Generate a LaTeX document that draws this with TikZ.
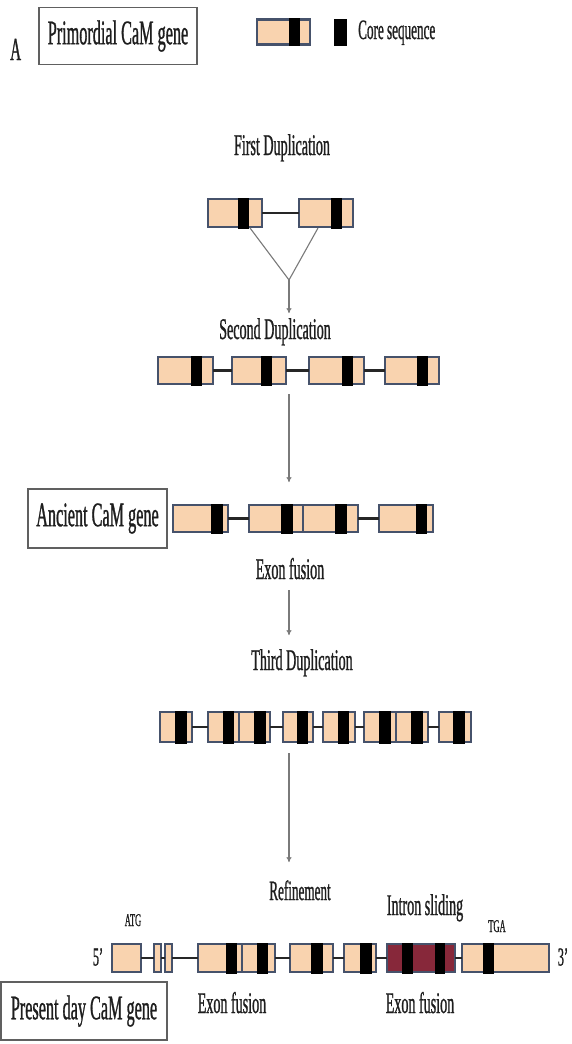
\documentclass[tikz,border=0pt]{standalone}
\usepackage{fontspec}
\setmainfont{Liberation Serif}[FakeStretch=0.47,FakeBold=0.8]
\usetikzlibrary{arrows.meta}
\definecolor{peach}{HTML}{F9D3AF}
\definecolor{exline}{HTML}{46526B}
\definecolor{redex}{HTML}{87283A}
\definecolor{arrowgray}{HTML}{7A7A7A}
\definecolor{txt}{HTML}{1E1E1E}
\tikzset{
  exonbox/.style={rectangle, draw=exline, fill=peach, line width=2.1pt, inner sep=0pt, outer sep=0pt},
  corebox/.style={rectangle, fill=black, draw=none, inner sep=0pt, outer sep=0pt},
  link/.style={line width=2.2pt, black!85},
  vline/.style={draw=arrowgray, line width=1.1pt},
  flow/.style={draw=arrowgray, line width=1.1pt, -{To[length=5pt,width=5pt]}},
  lbl/.style={text=txt, font=\fontsize{30}{32}\selectfont, inner sep=0pt},
  small/.style={text=txt, font=\fontsize{18}{20}\selectfont, inner sep=0pt},
  genebox/.style={draw=gray!75!black, line width=1.3pt, text=txt, font=\fontsize{34.5}{36}\selectfont, inner sep=0pt}
}
% name, x1, x2, yc, h
\newcommand{\exon}[6][]{\node[exonbox,#1, minimum width={(#4-#3)*1pt}, minimum height={#6*1pt}] (#2) at ({(#3+#4)/2},#5) {};}
\newcommand{\core}[5]{\node[corebox, minimum width={(#3-#2)*1pt}, minimum height={(#5+3)*1pt}] (#1) at ({(#2+#3)/2},#4) {};}
\begin{document}
\begin{tikzpicture}[x=1pt,y=-1pt]
\useasboundingbox[fill=white] (0,0) rectangle (571,1044);

% ---- header ----
\node[text=txt, font=\fontsize{32}{34}\selectfont, inner sep=0pt, anchor=base west] (lA) at (10,60) {A};
\node[genebox, minimum width=158pt, minimum height=57pt] (prim) at (118,36) {Primordial CaM gene};
\exon{leg}{257}{310}{32}{25}
\core{legc}{289}{300}{32}{25}
\node[corebox, minimum width=13pt, minimum height=27pt] (legsq) at (340.5,32) {};
\node[text=txt, font=\fontsize{28}{30}\selectfont, inner sep=0pt, anchor=base west] (legt) at (358,39) {Core sequence};

% ---- first duplication ----
\node[lbl, anchor=base] (t1) at (282,155) {First Duplication};
\exon{d1a}{208}{262}{213}{28}
\exon{d1b}{299}{353}{213}{28}
\draw[link] (d1a.east) -- (d1b.west);
\core{d1ac}{238}{249}{213}{28}
\core{d1bc}{331}{342}{213}{28}
\coordinate (v1) at (250,228);
\coordinate (v2) at (318,228);
\coordinate (vj) at (289,280);
\coordinate (a1) at (289,313);
\draw[vline] (v1) -- (vj);
\draw[vline] (v2) -- (vj);
\draw[flow] (vj) -- (a1);

% ---- second duplication ----
\node[lbl, anchor=base] (t2) at (275,339) {Second Duplication};
\exon{d2a}{158}{213}{370.5}{27}
\exon{d2b}{232}{286}{370.5}{27}
\exon{d2c}{309}{364}{370.5}{27}
\exon{d2d}{385}{439}{370.5}{27}
\draw[link] (d2a.east) -- (d2b.west);
\draw[link] (d2b.east) -- (d2c.west);
\draw[link] (d2c.east) -- (d2d.west);
\core{d2ac}{191}{202}{370.5}{27}
\core{d2bc}{261}{272}{370.5}{27}
\core{d2cc}{342}{353}{370.5}{27}
\core{d2dc}{417}{428}{370.5}{27}
\coordinate (a2s) at (289,394);
\coordinate (a2e) at (289,482);
\draw[flow] (a2s) -- (a2e);

% ---- ancient gene ----
\node[genebox, minimum width=139pt, minimum height=59pt] (anc) at (97.5,518.5) {Ancient CaM gene};
\exon{d3a}{173}{228}{518.5}{27}
\exon{d3b}{249}{303}{518.5}{27}
\exon{d3c}{303}{358}{518.5}{27}
\exon{d3d}{379}{433}{518.5}{27}
\draw[link] (d3a.east) -- (d3b.west);
\draw[link] (d3c.east) -- (d3d.west);
\core{d3ac}{211}{223}{518.5}{27}
\core{d3bc}{281}{293}{518.5}{27}
\core{d3cc}{335}{347}{518.5}{27}
\core{d3dc}{416}{427}{518.5}{27}
\node[lbl, anchor=base] (ef1) at (290,579) {Exon fusion};
\coordinate (a3s) at (289,590);
\coordinate (a3e) at (289,635);
\draw[flow] (a3s) -- (a3e);

% ---- third duplication ----
\node[lbl, anchor=base] (t3) at (302,670) {Third Duplication};
\exon{d4a}{160}{192}{727}{30}
\exon{d4b}{208}{239}{727}{30}
\exon{d4c}{239}{270}{727}{30}
\exon{d4d}{283}{313}{727}{30}
\exon{d4e}{323}{355}{727}{30}
\exon{d4f}{364}{396}{727}{30}
\exon{d4g}{396}{428}{727}{30}
\exon{d4h}{439}{471}{727}{30}
\draw[link] (d4a.east) -- (d4b.west);
\draw[link] (d4c.east) -- (d4d.west);
\draw[link] (d4d.east) -- (d4e.west);
\draw[link] (d4e.east) -- (d4f.west);
\draw[link] (d4g.east) -- (d4h.west);
\core{d4ac}{175}{187}{727}{30}
\core{d4bc}{223}{234}{727}{30}
\core{d4cc}{254}{266}{727}{30}
\core{d4dc}{297}{308}{727}{30}
\core{d4ec}{338}{349}{727}{30}
\core{d4fc}{379}{391}{727}{30}
\core{d4gc}{411}{423}{727}{30}
\core{d4hc}{453}{465}{727}{30}
\coordinate (a4s) at (289,753);
\coordinate (a4e) at (289,862);
\draw[flow] (a4s) -- (a4e);

% ---- present day gene ----
\node[text=txt, font=\fontsize{28}{30}\selectfont, inner sep=0pt, anchor=base] (ref) at (300,900) {Refinement};
\node[lbl, anchor=base] (isl) at (425,915) {Intron sliding};
\node[small, anchor=base] (atg) at (133,926) {ATG};
\node[small, anchor=base] (tga) at (497,932) {TGA};
\node[text=txt, font=\fontsize{26}{28}\selectfont, inner sep=0pt] (p5) at (98,957) {5'};
\node[text=txt, font=\fontsize{26}{28}\selectfont, inner sep=0pt] (p3) at (563,957) {3'};
\exon{g1}{112}{141}{958}{28}
\exon{g2}{154}{161}{958}{28}
\exon{g3}{165}{172}{958}{28}
\exon{g4}{198}{242}{958}{28}
\exon{g5}{242}{275}{958}{28}
\exon{g6}{290}{333}{958}{28}
\exon{g7}{344}{376}{958}{28}
\exon[fill=redex]{g8}{387}{455}{958}{28}
\exon{g9}{462}{549}{958}{28}
\draw[link] (g1.east) -- (g2.west);
\draw[link] (g2.east) -- (g3.west);
\draw[link] (g3.east) -- (g4.west);
\draw[link] (g5.east) -- (g6.west);
\draw[link] (g6.east) -- (g7.west);
\draw[link] (g7.east) -- (g8.west);
\draw[link] (g8.east) -- (g9.west);
\core{g4c}{226}{237}{958}{28}
\core{g5c}{257}{268}{958}{28}
\core{g6c}{311}{323}{958}{28}
\core{g7c}{360}{372}{958}{28}
\core{g8c1}{402}{413}{958}{28}
\core{g8c2}{435}{445}{958}{28}
\core{g9c}{483}{494}{958}{28}
\node[genebox, minimum width=166pt, minimum height=58pt] (pres) at (84,1011) {Present day CaM gene};
\node[lbl, anchor=base] (ef2) at (232,1013) {Exon fusion};
\node[lbl, anchor=base] (ef3) at (420,1013) {Exon fusion};
\end{tikzpicture}
\end{document}
